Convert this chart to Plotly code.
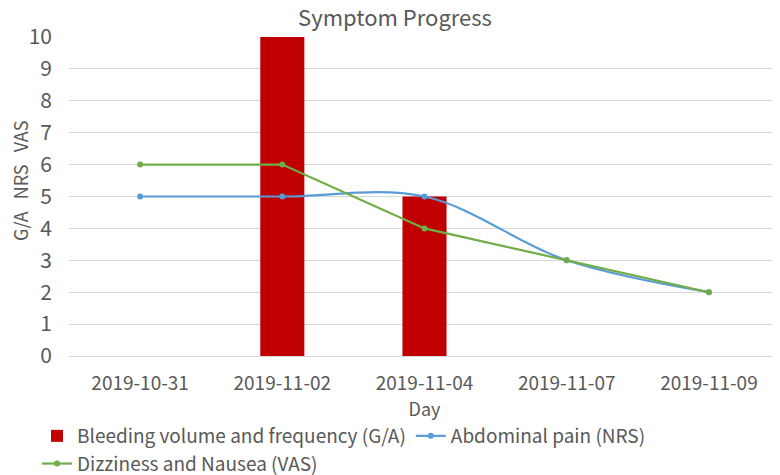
import plotly.graph_objects as go

days = ["2019-10-31", "2019-11-02", "2019-11-04", "2019-11-07", "2019-11-09"]
bleeding = [0, 10, 5, 0, 0]
pain = [5, 5, 5, 3, 2]
dizziness = [6, 6, 4, 3, 2]
y_ticks = list(range(0, 11))

FONT = "Noto Sans CJK KR"
GREY = "#595959"
W, H = 772, 467  # page body has an 8px margin
PL, PT, PB = 61, 29, 119
PW, PH = W - PL, H - PT - PB

fig = go.Figure()
fig.add_trace(go.Bar(x=days, y=bleeding, name="Bleeding volume and frequency (G/A)",
                     marker=dict(color="#C00000", line=dict(width=0)), width=0.31))
fig.add_trace(go.Scatter(x=days, y=pain, name="Abdominal pain (NRS)", mode="lines+markers",
                         line=dict(color="#5B9BD5", width=2.2, shape="spline", smoothing=1),
                         marker=dict(size=6, color="#5B9BD5")))
fig.add_trace(go.Scatter(x=days, y=dizziness, name="Dizziness and Nausea (VAS)", mode="lines+markers",
                         line=dict(color="#70AD47", width=2.2),
                         marker=dict(size=6, color="#70AD47")))

NB = "\u00a0"
fig.add_annotation(text="G/A" + NB * 3 + "NRS" + NB * 3 + "VAS", textangle=-90,
                   xref="paper", yref="paper", x=(12 - PL) / PW, y=(PT + PH - 173) / PH,
                   xanchor="center", yanchor="middle", showarrow=False,
                   font=dict(size=18, color=GREY))

fig.update_layout(
    width=W, height=H,
    margin=dict(l=PL, r=0, t=PT, b=PB, autoexpand=False),
    paper_bgcolor="white", plot_bgcolor="white",
    font=dict(family=FONT, color=GREY),
    title=dict(text="Symptom Progress", x=387 / W, xanchor="center", y=1 - 10 / H, yanchor="middle",
               font=dict(size=22, color=GREY)),
    xaxis=dict(type="category", showgrid=False, showline=True, linecolor="#d9d9d9",
               ticks="", tickfont=dict(size=19, color=GREY), ticklabelstandoff=10,
               automargin=True,
               title=dict(text="Day", font=dict(size=18, color=GREY), standoff=9)),
    yaxis=dict(range=[0, 10], tickvals=y_ticks, showgrid=True, gridcolor="#d9d9d9", gridwidth=1,
               zeroline=False, showline=False, ticks="", tickfont=dict(size=21, color=GREY),
               ticklabelstandoff=16),
    legend=dict(orientation="h", x=(29 - PL) / PW, xref="paper", xanchor="left",
                y=-(409 - (PT + PH)) / PH, yref="paper", yanchor="top",
                font=dict(size=19, color=GREY), itemwidth=30, tracegroupgap=0),
    bargap=0.69,
    showlegend=True,
)
fig.write_html("out.html")
